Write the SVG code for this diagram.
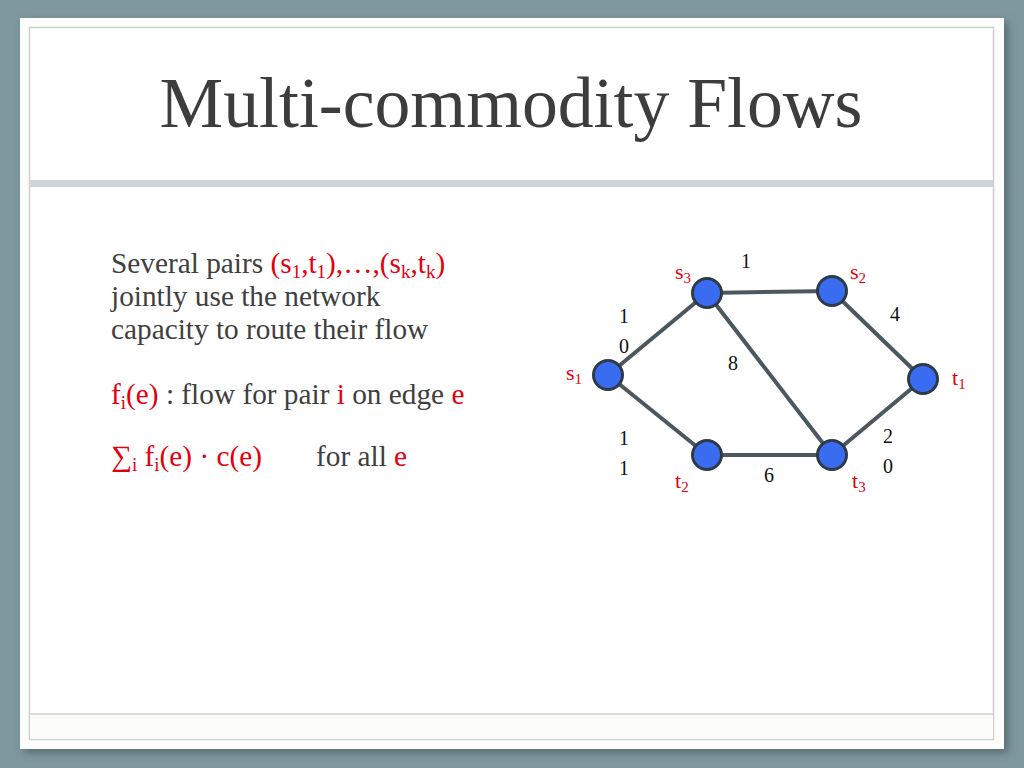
<svg xmlns="http://www.w3.org/2000/svg" width="1024" height="768" viewBox="0 0 1024 768">
<defs>
<filter id="sh" x="-5%" y="-5%" width="110%" height="110%">
<feGaussianBlur stdDeviation="4"/>
</filter>
<style>
.t{font-family:"Liberation Serif","Times New Roman",serif;}
.body{font-size:29.3px;fill:#3f3f3f;}
.r{fill:#e3000f;}
.edge{stroke:#4b5860;stroke-width:4;stroke-linecap:round;fill:none;}
.node{fill:#3a6cf2;stroke:#2e3b47;stroke-width:3;}
.gl{font-size:20px;fill:#111;}
.nl{font-size:22px;fill:#e3000f;}
.sub{font-size:15px;}
.bs{font-size:19px;}
</style>
</defs>
<rect width="1024" height="768" fill="#7f979f"/>
<rect x="24" y="22" width="984" height="731" fill="#3e4f56" opacity="0.6" filter="url(#sh)"/>
<rect x="20" y="18" width="984" height="731" fill="#fdfdfb"/>
<rect x="29.5" y="27.5" width="964" height="712" fill="#ffffff" stroke="#cfcfcc" stroke-width="1.5"/>
<rect x="30" y="180" width="963" height="7" fill="#d1d4d7"/>
<line x1="30" y1="714" x2="993" y2="714" stroke="#d0d0cd" stroke-width="1.5"/>
<rect x="30" y="715" width="963" height="24" fill="#fcfcfa"/>

<text class="t" x="511" y="127" font-size="71.7" fill="#3d3d3d" text-anchor="middle">Multi-commodity Flows</text>

<g id="bullets">
<text class="t body" x="111" y="273">Several pairs <tspan class="r">(s<tspan class="bs" dy="5">1</tspan><tspan dy="-5">,t</tspan><tspan class="bs" dy="5">1</tspan><tspan dy="-5">),…,(s</tspan><tspan class="bs" dy="5">k</tspan><tspan dy="-5">,t</tspan><tspan class="bs" dy="5">k</tspan><tspan dy="-5">)</tspan></tspan></text>
<text class="t body" x="111" y="306">jointly use the network</text>
<text class="t body" x="111" y="339">capacity to route their flow</text>
<text class="t body" x="111" y="404"><tspan class="r">f</tspan><tspan class="r bs" dy="5">i</tspan><tspan class="r" dy="-5">(e)</tspan> : flow for pair <tspan class="r">i</tspan> on edge <tspan class="r">e</tspan></text>
<text class="t body" x="111" y="466"><tspan class="r">∑</tspan><tspan class="r bs" dy="5">i</tspan><tspan class="r" dy="-5"> f</tspan><tspan class="r bs" dy="5">i</tspan><tspan class="r" dy="-5">(e) · c(e)</tspan></text>
<text class="t body" x="316" y="466">for all <tspan class="r">e</tspan></text>
</g>

<g id="connectors">
<line class="edge" x1="608" y1="375" x2="707" y2="293"/>
<line class="edge" x1="608" y1="375" x2="707" y2="455"/>
<line class="edge" x1="707" y1="293" x2="832" y2="291"/>
<line class="edge" x1="707" y1="293" x2="832" y2="455"/>
<line class="edge" x1="832" y1="291" x2="923" y2="379"/>
<line class="edge" x1="707" y1="455" x2="832" y2="455"/>
<line class="edge" x1="832" y1="455" x2="923" y2="379"/>
</g>

<g id="edge-labels" class="t gl" text-anchor="middle">
<text x="746" y="268">1</text>
<text x="624" y="323">1</text>
<text x="624" y="353">0</text>
<text x="733" y="370">8</text>
<text x="895" y="321">4</text>
<text x="624" y="445">1</text>
<text x="624" y="475">1</text>
<text x="769" y="482">6</text>
<text x="888" y="443">2</text>
<text x="888" y="473">0</text>
</g>

<g id="node-s1"><circle class="node" cx="608" cy="375" r="14.5"/><text class="t nl" x="566" y="380">s<tspan class="sub" dy="4">1</tspan></text></g>
<g id="node-s3"><circle class="node" cx="707" cy="293" r="14.5"/><text class="t nl" x="675" y="279">s<tspan class="sub" dy="4">3</tspan></text></g>
<g id="node-s2"><circle class="node" cx="832" cy="291" r="14.5"/><text class="t nl" x="850" y="279">s<tspan class="sub" dy="4">2</tspan></text></g>
<g id="node-t1"><circle class="node" cx="923" cy="379" r="14.5"/><text class="t nl" x="952" y="385">t<tspan class="sub" dy="4">1</tspan></text></g>
<g id="node-t2"><circle class="node" cx="707" cy="455" r="14.5"/><text class="t nl" x="675" y="488">t<tspan class="sub" dy="4">2</tspan></text></g>
<g id="node-t3"><circle class="node" cx="832" cy="455" r="14.5"/><text class="t nl" x="852" y="488">t<tspan class="sub" dy="4">3</tspan></text></g>
</svg>
